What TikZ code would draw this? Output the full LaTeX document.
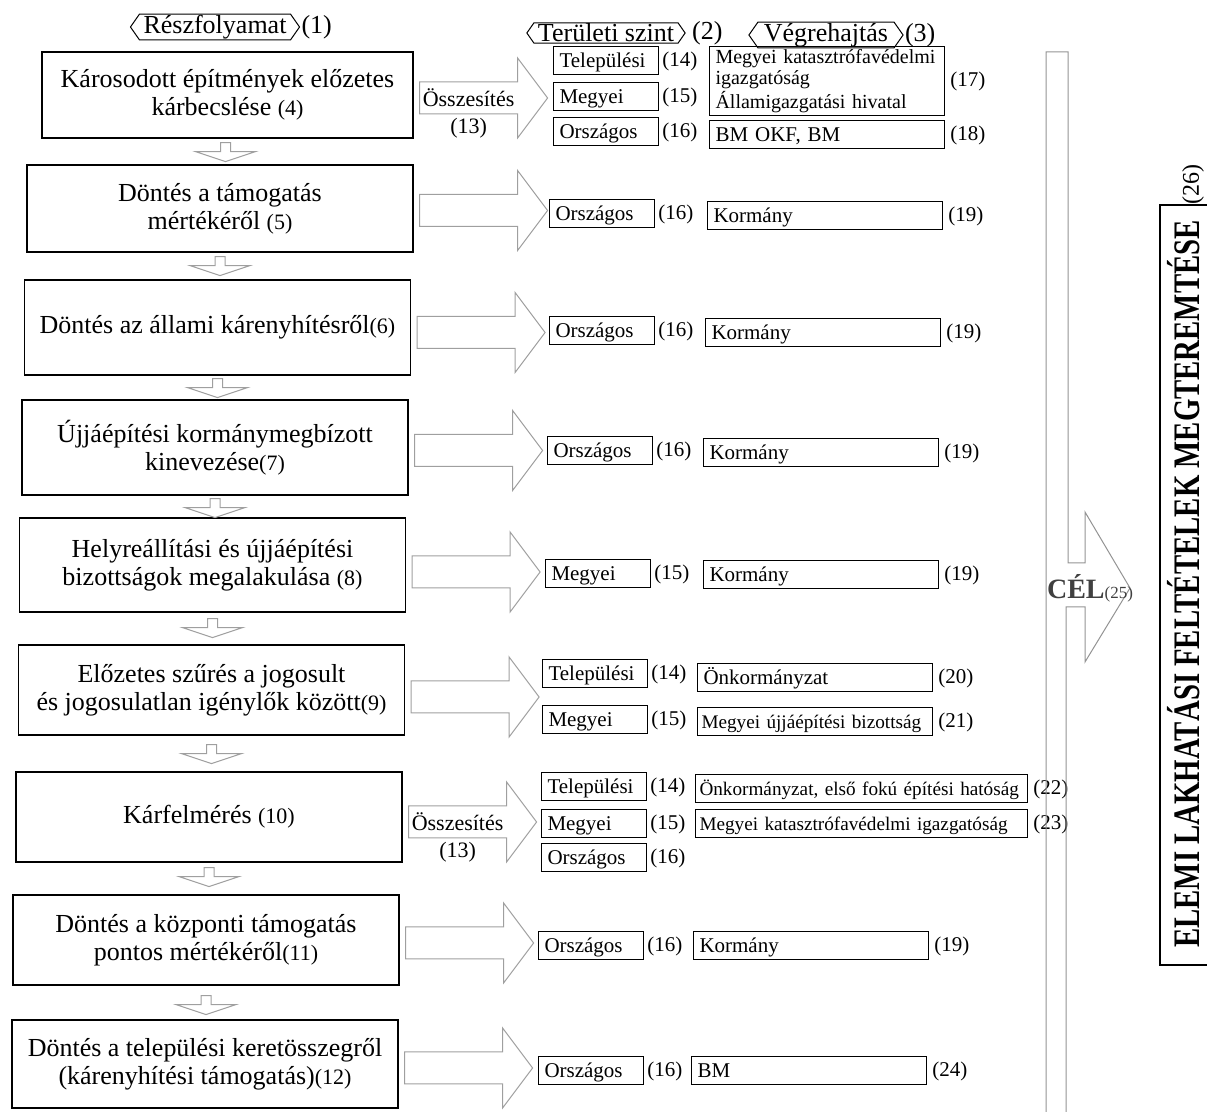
\documentclass[tikz,border=0pt]{standalone}
\usepackage{fontspec}
\setmainfont{Liberation Serif}
\usetikzlibrary{shapes.symbols,positioning,calc}
\newcommand{\numsz}{\fontsize{11}{14}\selectfont}

\begin{document}
\begin{tikzpicture}[x=0.5pt, y=-0.5pt,
    proc/.style={rectangle, draw, line width=0.6pt, minimum width=193pt, align=center, font=\fontsize{13}{14}\selectfont},
    lvl/.style={rectangle, draw, line width=0.5pt, anchor=west, minimum height=14pt, text height=9.5pt, text depth=2.5pt, text width=46.5pt, inner xsep=3pt, inner ysep=0pt, align=left, font=\fontsize{10.5}{12}\selectfont},
    exe/.style={lvl, text width=111.5pt},
    wide/.style={lvl, inner xsep=2pt, text width=162pt, font=\fontsize{9.6}{11}\selectfont},
    num/.style={inner sep=0pt, font=\fontsize{10.5}{12}\selectfont},
    hdr/.style={signal, signal to=west and east, signal pointer angle=110, draw, line width=0.5pt, inner xsep=2pt, inner ysep=0.5pt, font=\fontsize{13}{15}\selectfont},
    blk/.style={draw=gray!75, line width=0.5pt},
    rarr/.pic={\draw[blk] (0,-16) -- (98,-16) -- (98,-40) -- (128,0) -- (98,40) -- (98,16) -- (0,16) -- cycle;},
    darr/.pic={\draw[blk] (-5,0) -- (5,0) -- (5,9) -- (30,9) -- (0,19) -- (-30,9) -- (-5,9) -- cycle;}]
    \useasboundingbox (0,0) rectangle (1207,1112);

    % column headers
    \node[hdr] (h1) at (215,27) {Részfolyamat};
    \node[num, font=\fontsize{13}{15}\selectfont, right=0.5pt of h1] (h1n) {(1)};
    \node[hdr] (h2) at (606,33) {Területi szint};
    \node[num, font=\fontsize{13}{15}\selectfont, right=3pt of h2] (h2n) {(2)};
    \node[hdr, inner xsep=3pt] (h3) at (826,35) {Végrehajtás};
    \node[num, font=\fontsize{13}{15}\selectfont, right=0.5pt of h3] (h3n) {(3)};

    % process steps
    \node[proc, minimum width=185.5pt, minimum height=43pt] (b4) at (227.5,95) {Károsodott építmények előzetes\\kárbecslése {\numsz(4)}};
    \node[proc, minimum height=43.5pt] (b5) at (220,208.5) {Döntés a támogatás\\mértékéről {\numsz(5)}};
    \node[proc, minimum height=47.5pt] (b6) at (217.5,327.5) {Döntés az állami kárenyhítésről{\numsz(6)}};
    \node[proc, minimum height=47.5pt] (b7) at (215,447.5) {Újjáépítési kormánymegbízott\\kinevezése{\numsz(7)}};
    \node[proc, minimum height=47pt] (b8) at (212.5,565) {Helyreállítási és újjáépítési\\bizottságok megalakulása {\numsz(8)}};
    \node[proc, minimum height=45pt] (b9) at (211.5,690) {Előzetes szűrés a jogosult\\és jogosulatlan igénylők között{\numsz(9)}};
    \node[proc, minimum height=45pt] (b10) at (209,817) {Kárfelmérés {\numsz(10)}};
    \node[proc, minimum height=45pt] (b11) at (206,940) {Döntés a központi támogatás\\pontos mértékéről{\numsz(11)}};
    \node[proc, minimum height=44pt] (b12) at (205,1064) {Döntés a települési keretösszegről\\(kárenyhítési támogatás){\numsz(12)}};

    \pic at ($(b4.south)+(-2,4)$) {darr};
    \pic at ($(b5.south)+(0,4)$) {darr};
    \pic at ($(b6.south)+(0,3)$) {darr};
    \pic at ($(b7.south)+(0,3)$) {darr};
    \pic at ($(b8.south)+(0,6)$) {darr};
    \pic at ($(b9.south)+(0,9)$) {darr};
    \pic at ($(b10.south)+(0,5)$) {darr};
    \pic at ($(b11.south)+(0,10)$) {darr};

    \pic at ($(b4.east)+(6,3)$) {rarr};
    \pic at ($(b5.east)+(6,2)$) {rarr};
    \pic at ($(b6.east)+(6,5)$) {rarr};
    \pic at ($(b7.east)+(6,3)$) {rarr};
    \pic at ($(b8.east)+(6,7)$) {rarr};
    \pic at ($(b9.east)+(6,7)$) {rarr};
    \pic at ($(b10.east)+(6,5)$) {rarr};
    \pic at ($(b11.east)+(6,3)$) {rarr};
    \pic at ($(b12.east)+(6,4)$) {rarr};
    \node[num, font=\fontsize{11}{13}\selectfont] (s1) at ($(b4.east)+(55,3)$) {Összesítés};
    \node[num, font=\fontsize{11}{13}\selectfont, below=5pt of s1] (s1n) {(13)};
    \node[num, font=\fontsize{11}{13}\selectfont] (s7) at ($(b10.east)+(55,5)$) {Összesítés};
    \node[num, font=\fontsize{11}{13}\selectfont, below=5pt of s7] (s7n) {(13)};

    % row 1
    \node[lvl] (t1) at (553,61) {Települési};
    \node[num, right=1.5pt of t1] (t1n) {(14)};
    \node[lvl] (m1) at (553,97) {Megyei};
    \node[num, right=1.5pt of m1] (m1n) {(15)};
    \node[lvl] (o1) at (553,132) {Országos};
    \node[num, right=1.5pt of o1] (o1n) {(16)};
    \node[exe, text height=, text depth=, font=\fontsize{10}{10.5}\selectfont, inner ysep=1.5pt] (e17) at (709,81) {Megyei katasztrófavédelmi\\igazgatóság\\Államigazgatási hivatal};
    \node[num, right=2.5pt of e17] (e17n) {(17)};
    \node[exe] (e18) at (709,135) {BM OKF, BM};
    \node[num, right=2.5pt of e18] (e18n) {(18)};
    % rows 2--5
    \node[lvl] (o2) at (549,214) {Országos};
    \node[num, right=1.5pt of o2] (o2n) {(16)};
    \node[exe] (k2) at (707,216) {Kormány};
    \node[num, right=2.5pt of k2] (k2n) {(19)};
    \node[lvl] (o3) at (549,331) {Országos};
    \node[num, right=1.5pt of o3] (o3n) {(16)};
    \node[exe] (k3) at (705,333) {Kormány};
    \node[num, right=2.5pt of k3] (k3n) {(19)};
    \node[lvl] (o4) at (547,451) {Országos};
    \node[num, right=1.5pt of o4] (o4n) {(16)};
    \node[exe] (k4) at (703,453) {Kormány};
    \node[num, right=2.5pt of k4] (k4n) {(19)};
    \node[lvl] (m5) at (545,574) {Megyei};
    \node[num, right=1.5pt of m5] (m5n) {(15)};
    \node[exe] (k5) at (703,575) {Kormány};
    \node[num, right=2.5pt of k5] (k5n) {(19)};
    % row 6
    \node[lvl] (t6) at (542,674) {Települési};
    \node[num, right=1.5pt of t6] (t6n) {(14)};
    \node[exe] (e20) at (697,678) {Önkormányzat};
    \node[num, right=2.5pt of e20] (e20n) {(20)};
    \node[lvl] (m6) at (542,720) {Megyei};
    \node[num, right=1.5pt of m6] (m6n) {(15)};
    \node[exe, inner xsep=2pt, text width=113.5pt, font=\fontsize{9.6}{11}\selectfont] (e21) at (697,722) {Megyei újjáépítési bizottság};
    \node[num, right=2.5pt of e21] (e21n) {(21)};
    % row 7
    \node[lvl] (t7) at (541,787) {Települési};
    \node[num, right=1.5pt of t7] (t7n) {(14)};
    \node[wide] (e22) at (695,789) {Önkormányzat, első fokú építési hatóság};
    \node[num, right=2.5pt of e22] (e22n) {(22)};
    \node[lvl] (m7) at (541,824) {Megyei};
    \node[num, right=1.5pt of m7] (m7n) {(15)};
    \node[wide] (e23) at (695,824) {Megyei katasztrófavédelmi igazgatóság};
    \node[num, right=2.5pt of e23] (e23n) {(23)};
    \node[lvl] (o7) at (541,858) {Országos};
    \node[num, right=1.5pt of o7] (o7n) {(16)};
    % rows 8--9
    \node[lvl] (o8) at (538,946) {Országos};
    \node[num, right=1.5pt of o8] (o8n) {(16)};
    \node[exe] (k8) at (693,946) {Kormány};
    \node[num, right=2.5pt of k8] (k8n) {(19)};
    \node[lvl] (o9) at (538,1071) {Országos};
    \node[num, right=1.5pt of o9] (o9n) {(16)};
    \node[exe] (e24) at (691,1071) {BM};
    \node[num, right=2.5pt of e24] (e24n) {(24)};

    % goal
    \draw[blk, draw=gray!85] (1046,1112) -- (1046,52) -- (1068,52) -- (1068,563) -- (1085,563) -- (1085,512)
        -- (1130,588) -- (1085,662) -- (1085,607) -- (1066,607) -- (1066,1112);
    \node[inner sep=0pt, text=gray!50!black, font=\bfseries\fontsize{14}{16}\selectfont] (cel) at (1090,588) {CÉL{\mdseries\fontsize{8.5}{10}\selectfont(25)}};
    \draw[line width=0.6pt] (1207,205) -- (1160,205) -- (1160,965) -- (1207,965);
    \node[inner sep=0pt, rotate=90, font=\bfseries\fontsize{14.4}{16}\selectfont] (goal) at (1184,584) {\scalebox{1}[1.3]{ELEMI LAKHATÁSI FELTÉTELEK MEGTEREMTÉSE}};
    \node[num, rotate=90, font=\fontsize{12}{14}\selectfont] (goaln) at (1193,185) {(26)};
\end{tikzpicture}
\end{document}
